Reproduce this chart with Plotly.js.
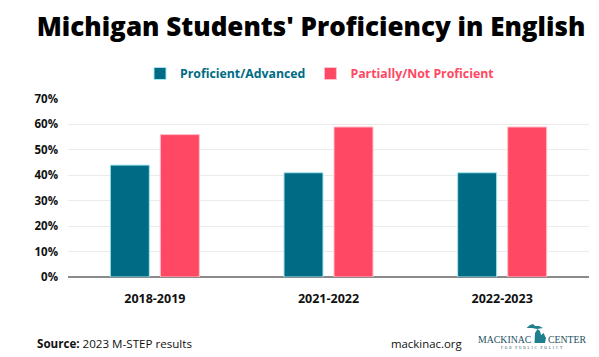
<!DOCTYPE html>
<html><head><meta charset="utf-8">
<script src="https://cdn.plot.ly/plotly-3.0.1.min.js"></script>
<style>html,body{margin:0;padding:0;background:#fff}#c{width:599px;height:357px}</style>
</head><body><div id="c"></div>
<script>
const categories = ['2018-2019', '2021-2022', '2022-2023'];
const proficient = [0.44, 0.41, 0.41];
const notProficient = [0.56, 0.59, 0.59];
const seriesNames = ['Proficient/Advanced', 'Partially/Not Proficient'];
const yTicks = [0, 0.1, 0.2, 0.3, 0.4, 0.5, 0.6, 0.7];
const yTickText = ['0%', '10%', '20%', '30%', '40%', '50%', '60%', '70%'];

const blue = '#006B84', pink = '#FF4863', logo = '#1d4f5e', map = '#1f7f8f';
const F = '"Open Sans", sans-serif';
const ML = 68, MR = 10, MT = 99, MB = 80, W = 599, H = 357;
const PW = W - ML - MR, PH = H - MT - MB;
const px = v => (v - ML) / PW;
const py = v => (H - MB - v) / PH;

const traces = [
  {type:'bar', x:categories, y:proficient, name:'<b><span style="color:'+blue+'">'+seriesNames[0]+'</span></b>',
   marker:{color:blue, line:{color:'#a8e6f0', width:1}}, hoverinfo:'skip'},
  {type:'bar', x:categories, y:notProficient, name:'<b><span style="color:'+pink+'">'+seriesNames[1]+'</span></b>',
   marker:{color:pink, line:{color:'#ffc2cb', width:1}}, hoverinfo:'skip'}
];

const mapPath = 'M '+px(534.5)+' '+py(343)+' L '+px(535)+' '+py(333)+' L '+px(537.5)+' '+py(329)+' L '+px(540)+' '+py(331)
  +' L '+px(541)+' '+py(335)+' L '+px(543.5)+' '+py(333)+' L '+px(546)+' '+py(338)+' L '+px(545)+' '+py(343)+' Z';
const upPath = 'M '+px(526.5)+' '+py(328)+' L '+px(530)+' '+py(325)+' L '+px(533)+' '+py(324)+' L '+px(535)+' '+py(326)
  +' L '+px(539)+' '+py(326)+' L '+px(543)+' '+py(328)+' L '+px(537)+' '+py(329)+' L '+px(532)+' '+py(328)+' Z';

const layout = {
  width:W, height:H,
  margin:{l:ML, r:MR, t:MT, b:MB},
  paper_bgcolor:'#fff', plot_bgcolor:'#fff',
  font:{family:F, color:'#000'},
  barmode:'group', bargap:0.424, bargroupgap:0.22,
  title:{text:"Michigan Students' Proficiency in English", font:{family:F, size:26, weight:800, color:'#000'},
         x:311/W, xref:'container', xanchor:'center', y:1-27/H, yref:'container', yanchor:'middle'},
  showlegend:true,
  legend:{orientation:'h', x:px(140), xanchor:'left', y:py(73.5), yanchor:'middle',
          font:{family:F, size:12.3}, itemwidth:30, tracegroupgap:0},
  xaxis:{type:'category', tickfont:{family:F, size:12.5, weight:'bold', color:'#111'}, ticks:'', ticklabelstandoff:12,
         showgrid:false, zeroline:false, showline:false},
  yaxis:{range:[0,0.7], tickvals:yTicks, ticktext:yTickText, tickfont:{family:F, size:11.5, weight:'bold', color:'#111'},
         ticklabelstandoff:9, showgrid:true, gridcolor:'#ebebeb', gridwidth:1, zeroline:true, zerolinecolor:'#8a8a8a',
         zerolinewidth:2, ticks:'', automargin:false},
  annotations:[
    {xref:'paper', yref:'paper', x:px(35), y:py(343), xanchor:'left', yanchor:'middle', showarrow:false,
     text:'<b>Source:</b> 2023 M-STEP results', font:{family:F, size:11.6, color:'#111'}},
    {xref:'paper', yref:'paper', x:px(389), y:py(343), xanchor:'left', yanchor:'middle', showarrow:false,
     text:'mackinac.org', font:{family:F, size:11.4, color:'#111'}},
    {xref:'paper', yref:'paper', x:px(476), y:py(339), xanchor:'left', yanchor:'middle', showarrow:false,
     text:'MACKINAC', font:{family:'"Liberation Serif", serif', size:9.8, color:logo}},
    {xref:'paper', yref:'paper', x:px(589), y:py(339), xanchor:'right', yanchor:'middle', showarrow:false,
     text:'CENTER', font:{family:'"Liberation Serif", serif', size:9.8, color:logo}},
    {xref:'paper', yref:'paper', x:px(532), y:py(347.5), xanchor:'center', yanchor:'middle', showarrow:false,
     text:'F&nbsp;&nbsp;O&nbsp;&nbsp;R&nbsp;&nbsp;&nbsp;&nbsp;P&nbsp;&nbsp;U&nbsp;&nbsp;B&nbsp;&nbsp;L&nbsp;&nbsp;I&nbsp;&nbsp;C&nbsp;&nbsp;&nbsp;&nbsp;P&nbsp;&nbsp;O&nbsp;&nbsp;L&nbsp;&nbsp;I&nbsp;&nbsp;C&nbsp;&nbsp;Y',
     font:{family:'"Liberation Serif", serif', size:3.6, color:logo}}
  ],
  shapes:[
    {type:'path', xref:'paper', yref:'paper', path:mapPath, fillcolor:map, line:{width:0}},
    {type:'path', xref:'paper', yref:'paper', path:upPath, fillcolor:map, line:{width:0}}
  ]
};
Plotly.newPlot('c', traces, layout, {displayModeBar:false, staticPlot:true});
</script></body></html>
